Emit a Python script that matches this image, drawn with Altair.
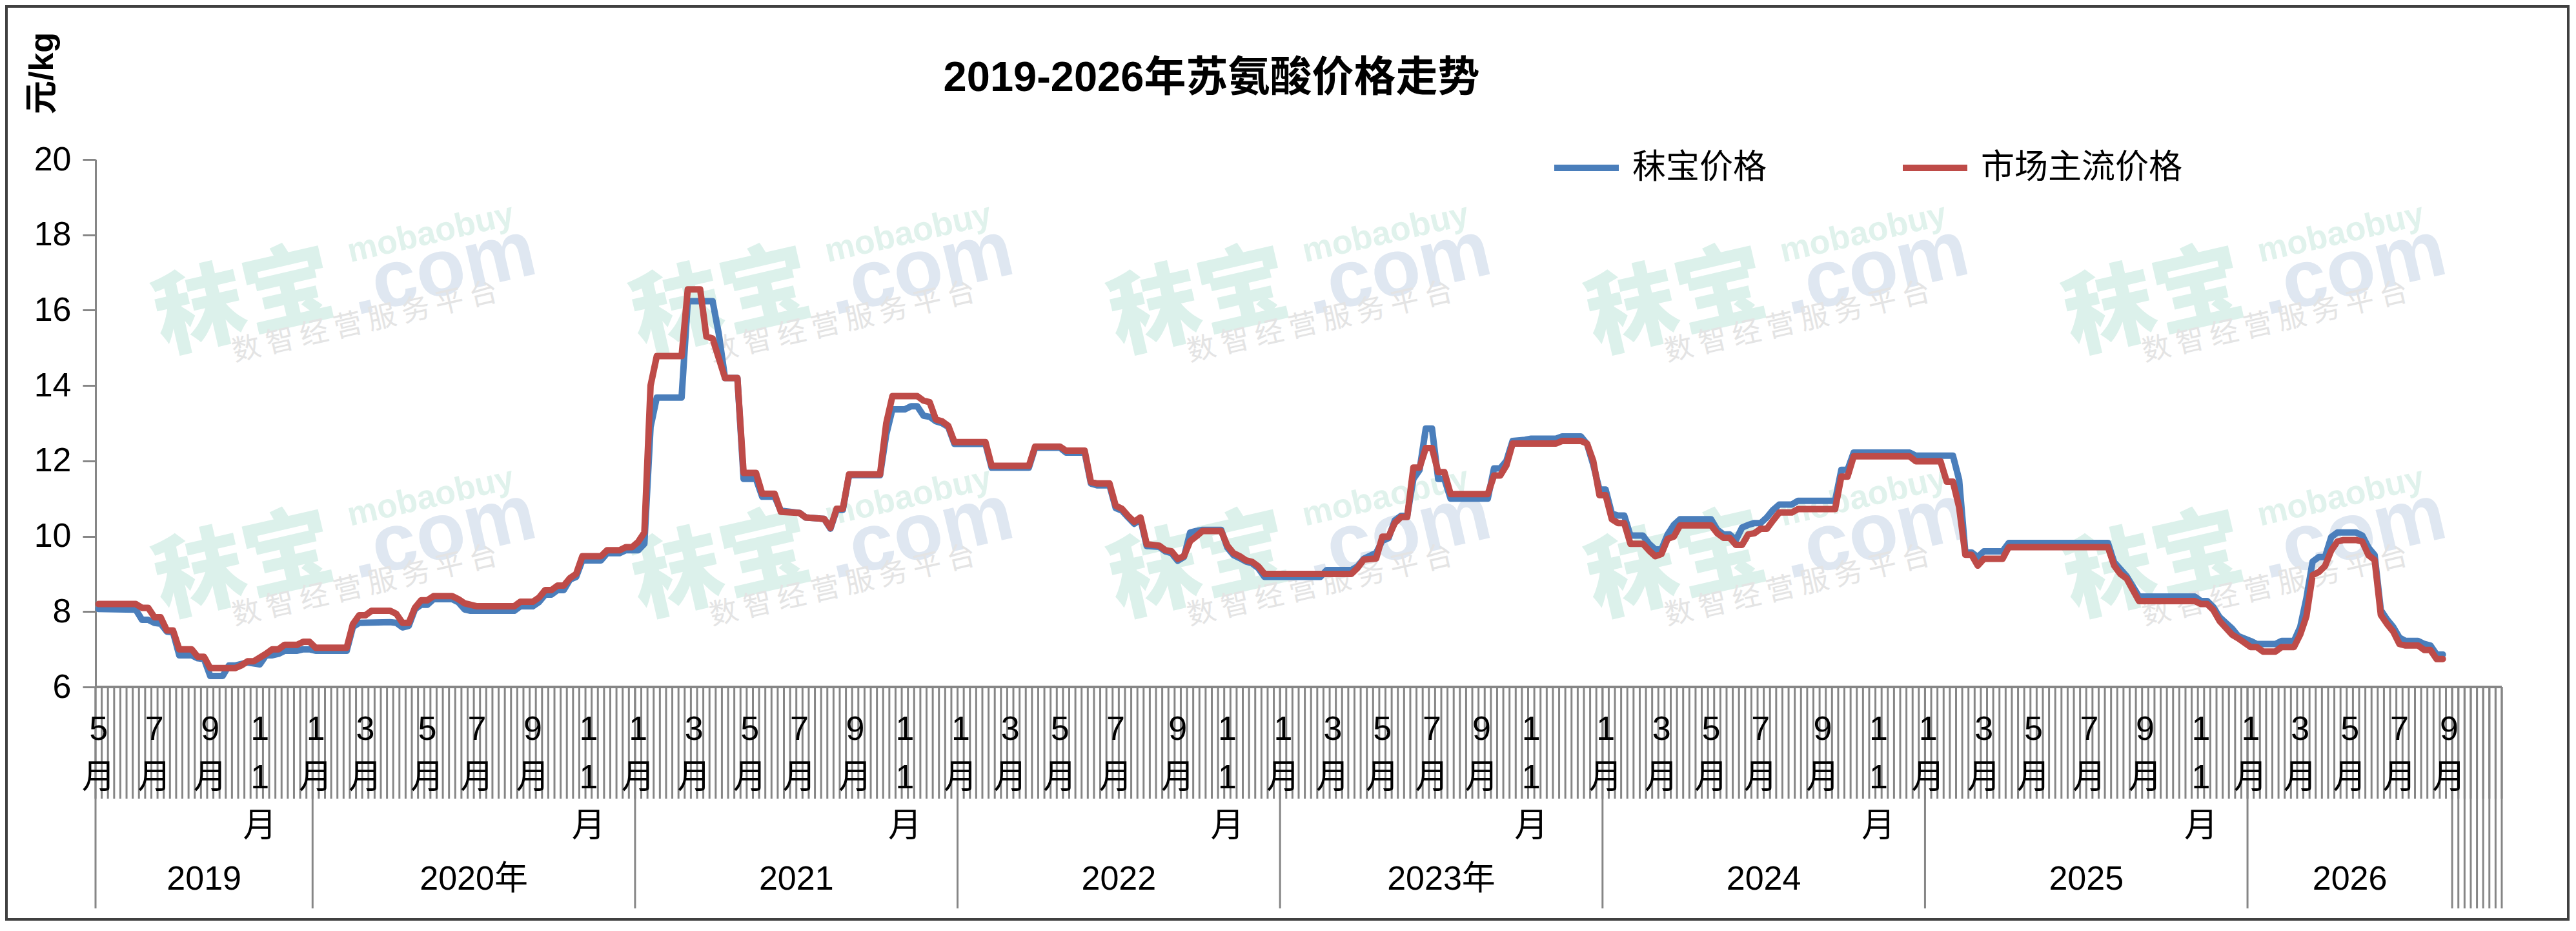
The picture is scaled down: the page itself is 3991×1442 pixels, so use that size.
import altair as alt
import pandas as pd

# ---------------- data (weekly categories) ----------------
red_weeks = [0, 6, 7, 8, 9, 10, 11, 12, 13, 15, 16, 17, 18, 22, 23, 24, 25, 27, 28, 29,
             30, 32, 33, 34, 35, 40, 41, 42, 43, 44, 47, 48, 49, 50, 51, 52, 53, 54, 57, 58,
             59, 61, 67, 68, 70, 71, 72, 73, 74, 75, 76, 77, 78, 81, 82, 84, 85, 86, 87, 88,
             89, 90, 94, 95, 97, 98, 99, 101, 103, 104, 106, 107, 109, 110, 113, 114, 117, 118, 119, 120,
             121, 126, 127, 128, 132, 133, 134, 135, 136, 137, 138, 143, 144, 150, 151, 155, 156, 159, 160, 161,
             163, 164, 165, 166, 167, 168, 169, 171, 172, 173, 174, 175, 176, 177, 178, 181, 182, 183, 184, 185,
             186, 187, 188, 202, 203, 204, 206, 207, 208, 209, 210, 211, 212, 213, 214, 215, 216, 217, 218, 224,
             225, 226, 227, 228, 235, 236, 239, 240, 241, 242, 243, 244, 245, 246, 247, 249, 250, 251, 252, 253,
             254, 255, 260, 261, 262, 263, 264, 265, 266, 267, 268, 269, 270, 271, 273, 274, 280, 281, 282, 283,
             292, 293, 297, 298, 299, 300, 301, 302, 303, 304, 307, 308, 324, 325, 326, 327, 329, 338, 339, 340,
             341, 342, 344, 345, 347, 348, 349, 351, 352, 354, 355, 356, 357, 358, 359, 360, 361, 362, 364, 365,
             366, 367, 368, 369, 370, 371, 372, 374, 375, 376, 377, 378]
red_values = [8.2, 8.2, 8.1, 8.1, 7.85, 7.85, 7.5, 7.5, 7.0, 7.0, 6.8, 6.8, 6.5, 6.5, 6.57, 6.68, 6.68, 6.88, 7.0, 7.0,
              7.12, 7.12, 7.2, 7.2, 7.04, 7.04, 7.67, 7.9, 7.9, 8.02, 8.02, 7.94, 7.7, 7.7, 8.1, 8.3, 8.3, 8.41, 8.41, 8.33,
              8.22, 8.14, 8.14, 8.26, 8.26, 8.37, 8.57, 8.57, 8.69, 8.69, 8.89, 9.0, 9.47, 9.47, 9.63, 9.63, 9.71, 9.71, 9.85, 10.1,
              14.0, 14.78, 14.78, 16.55, 16.55, 15.3, 15.25, 14.2, 14.2, 11.68, 11.68, 11.13, 11.13, 10.65, 10.62, 10.5, 10.46, 10.22, 10.73, 10.73,
              11.64, 11.64, 13.0, 13.72, 13.72, 13.6, 13.56, 13.1, 13.05, 12.93, 12.5, 12.5, 11.87, 11.87, 12.38, 12.38, 12.27, 12.27, 11.44, 11.4,
              11.4, 10.81, 10.73, 10.54, 10.38, 10.5, 9.79, 9.75, 9.63, 9.6, 9.4, 9.47, 9.87, 10.0, 10.14, 10.14, 9.75, 9.55, 9.47, 9.36,
              9.32, 9.2, 9.0, 9.0, 9.16, 9.38, 9.41, 9.99, 9.99, 10.35, 10.51, 10.51, 11.82, 11.82, 12.34, 12.34, 11.7, 11.7, 11.12, 11.12,
              11.61, 11.61, 11.88, 12.46, 12.46, 12.53, 12.53, 12.46, 12.0, 11.09, 11.09, 10.45, 10.35, 10.35, 9.8, 9.8, 9.62, 9.47, 9.53, 9.93,
              9.99, 10.29, 10.29, 10.08, 9.96, 9.96, 9.77, 9.77, 10.05, 10.08, 10.2, 10.2, 10.42, 10.63, 10.63, 10.72, 10.72, 11.58, 11.58, 12.12,
              12.12, 11.99, 11.99, 11.45, 11.45, 10.77, 9.51, 9.51, 9.22, 9.4, 9.4, 9.71, 9.71, 9.22, 9.0, 8.88, 8.28, 8.28, 8.2, 8.2,
              8.04, 7.75, 7.39, 7.29, 7.06, 7.06, 6.94, 6.94, 7.06, 7.06, 7.39, 7.88, 8.97, 9.05, 9.21, 9.62, 9.86, 9.9, 9.9, 9.86,
              9.5, 9.37, 7.91, 7.67, 7.47, 7.14, 7.1, 7.1, 6.98, 6.98, 6.74, 6.74]

blue_weeks = [0, 6, 7, 8, 9, 10, 11, 12, 13, 15, 16, 17, 18, 20, 21, 22, 24, 26, 27, 28,
              29, 30, 32, 33, 34, 35, 40, 41, 42, 47, 48, 49, 50, 51, 52, 53, 54, 57, 58, 59,
              60, 67, 68, 70, 71, 72, 73, 74, 75, 76, 77, 78, 81, 82, 84, 85, 87, 88, 89, 90,
              94, 95, 99, 100, 101, 103, 104, 106, 107, 109, 110, 113, 114, 117, 118, 119, 120, 121, 126, 127,
              128, 130, 131, 132, 133, 134, 135, 136, 137, 138, 143, 144, 150, 151, 155, 156, 159, 160, 161, 163,
              164, 165, 166, 167, 168, 169, 171, 172, 173, 174, 175, 176, 177, 178, 181, 182, 183, 184, 185, 186,
              187, 188, 197, 198, 202, 203, 204, 206, 207, 208, 209, 210, 211, 212, 213, 214, 215, 216, 217, 218,
              224, 225, 226, 227, 228, 230, 231, 235, 236, 239, 240, 241, 242, 243, 244, 245, 246, 247, 249, 250,
              251, 252, 253, 254, 255, 260, 261, 262, 263, 264, 265, 266, 267, 268, 269, 270, 271, 273, 274, 280,
              281, 282, 283, 292, 293, 299, 300, 301, 302, 303, 304, 307, 308, 324, 325, 327, 329, 338, 339, 340,
              341, 342, 344, 345, 347, 348, 351, 352, 354, 355, 356, 357, 358, 359, 360, 361, 364, 365, 366, 367,
              368, 369, 370, 371, 372, 374, 375, 376, 377, 378]
blue_values = [8.07, 8.05, 7.78, 7.78, 7.7, 7.68, 7.47, 7.45, 6.84, 6.84, 6.76, 6.74, 6.29, 6.29, 6.57, 6.57, 6.65, 6.6, 6.84, 6.84,
               6.88, 6.96, 6.96, 7.0, 7.0, 6.96, 6.96, 7.59, 7.7, 7.72, 7.7, 7.58, 7.62, 8.06, 8.18, 8.18, 8.33, 8.33, 8.25, 8.06,
               8.02, 8.02, 8.14, 8.14, 8.25, 8.45, 8.45, 8.57, 8.57, 8.85, 8.92, 9.36, 9.36, 9.55, 9.55, 9.63, 9.63, 9.8, 12.9, 13.68,
               13.68, 16.24, 16.24, 15.37, 14.2, 14.2, 11.52, 11.52, 11.05, 11.05, 10.68, 10.62, 10.5, 10.46, 10.2, 10.7, 10.7, 11.62, 11.62, 12.7,
               13.37, 13.37, 13.45, 13.45, 13.2, 13.17, 13.05, 13.0, 12.9, 12.45, 12.45, 11.82, 11.82, 12.35, 12.35, 12.22, 12.22, 11.4, 11.35, 11.35,
               10.75, 10.68, 10.5, 10.33, 10.45, 9.74, 9.72, 9.6, 9.55, 9.35, 9.45, 10.1, 10.14, 10.17, 10.17, 9.7, 9.5, 9.42, 9.33, 9.28,
               9.15, 8.92, 8.92, 9.1, 9.1, 9.2, 9.4, 9.56, 9.88, 9.95, 10.42, 10.54, 10.54, 11.52, 11.76, 12.86, 12.86, 11.52, 11.52, 11.0,
               11.0, 11.8, 11.8, 12.0, 12.53, 12.56, 12.59, 12.59, 12.65, 12.65, 12.45, 11.9, 11.24, 11.24, 10.6, 10.55, 10.55, 10.02, 10.02, 9.8,
               9.65, 9.65, 10.05, 10.3, 10.45, 10.45, 10.17, 10.05, 10.05, 9.9, 10.23, 10.3, 10.35, 10.35, 10.5, 10.7, 10.84, 10.84, 10.94, 10.94,
               11.76, 11.76, 12.22, 12.22, 12.14, 12.14, 11.5, 9.57, 9.57, 9.45, 9.6, 9.6, 9.82, 9.82, 9.31, 8.94, 8.4, 8.4, 8.28, 8.28,
               8.12, 7.85, 7.55, 7.35, 7.22, 7.14, 7.14, 7.22, 7.22, 7.59, 8.36, 9.33, 9.45, 9.45, 9.98, 10.1, 10.1, 10.02, 9.7, 9.5,
               8.04, 7.79, 7.59, 7.31, 7.22, 7.22, 7.14, 7.1, 6.86, 6.86]

# category axis: month labels (at the week where they appear) and year groups
month_weeks = [0, 9, 18, 26,
               35, 43, 53, 61, 70, 79,
               87, 96, 105, 113, 122, 130,
               139, 147, 155, 164, 174, 182,
               191, 199, 207, 215, 223, 231,
               243, 252, 260, 268, 278, 287,
               295, 304, 312, 321, 330, 339,
               347, 355, 363, 371, 379]
month_labels = ["5月", "7月", "9月", "11月",
                "1月", "3月", "5月", "7月", "9月", "11月",
                "1月", "3月", "5月", "7月", "9月", "11月",
                "1月", "3月", "5月", "7月", "9月", "11月",
                "1月", "3月", "5月", "7月", "9月", "11月",
                "1月", "3月", "5月", "7月", "9月", "11月",
                "1月", "3月", "5月", "7月", "9月", "11月",
                "1月", "3月", "5月", "7月", "9月"]
year_starts = [0, 35, 87, 139, 191, 243, 295, 347]
year_ends = [35, 87, 139, 191, 243, 295, 347, 380]
year_labels = ["2019", "2020年", "2021", "2022", "2023年", "2024", "2025", "2026"]
n_slots = 388

series_names = ["秣宝价格", "市场主流价格"]
series_colors = ["#4A7EBB", "#BE4B48"]
y_ticks = [6, 8, 10, 12, 14, 16, 18, 20]
title_text = "2019-2026年苏氨酸价格走势"
y_title = "元/kg"

# watermark anchors (in week / price units)
watermark_u = [23.9, 100.9, 177.9, 254.9, 331.9]
watermark_v = [16.3, 9.3]

# ---------------- layout ----------------
W, H = 3728, 817
FONT = "Liberation Sans, Noto Sans CJK SC"
CJK = "Noto Sans CJK SC"
GRAY = "#868686"

xs = alt.Scale(domain=[0, n_slots], nice=False, zero=False)
ys = alt.Scale(domain=[6, 20], nice=False, zero=False)

y_axis = alt.Axis(values=y_ticks, tickSize=20, tickWidth=3, tickColor=GRAY,
                  domainColor=GRAY, domainWidth=3, grid=False,
                  labelFontSize=52, labelFont=FONT, labelColor="black", labelPadding=18,
                  title=y_title, titleAngle=270, titleX=-83, titleY=-134,
                  titleAlign="center", titleBaseline="middle", titleFontSize=52,
                  titleFontWeight="bold", titleFont=FONT, titleColor="black")

df_blue = pd.DataFrame({"week": blue_weeks, "price": blue_values, "series": series_names[0]})
df_red = pd.DataFrame({"week": red_weeks, "price": red_values, "series": series_names[1]})

color = alt.Color("series:N",
                  scale=alt.Scale(domain=series_names, range=series_colors),
                  legend=alt.Legend(orient="none", legendX=2255, legendY=-42, direction="horizontal",
                                    title=None, symbolType="stroke", symbolSize=10000,
                                    symbolStrokeWidth=10, labelFontSize=52, labelFont=FONT,
                                    labelColor="black", labelOffset=16, columnPadding=190,
                                    labelLimit=2000, padding=0))


def line_layer(df):
    return (alt.Chart(df)
            .transform_calculate(pos="datum.week + 0.5")
            .mark_line(strokeWidth=10, strokeJoin="round", strokeCap="round")
            .encode(x=alt.X("pos:Q", scale=xs, axis=None),
                    y=alt.Y("price:Q", scale=ys, axis=y_axis),
                    color=color))


blue = line_layer(df_blue)
red = line_layer(df_red)

# border around the whole picture
border = (alt.Chart(alt.Data(values=[{}]))
          .mark_rect(fillOpacity=0, stroke="#404040", strokeWidth=4)
          .encode(x=alt.value(-138), x2=alt.value(W + 103), y=alt.value(-237), y2=alt.value(H + 360)))

# watermarks
wm = pd.DataFrame([{"u": u, "v": v} for v in watermark_v for u in watermark_u])
wm_base = alt.Chart(wm).encode(x=alt.X("u:Q", scale=xs, axis=None),
                               y=alt.Y("v:Q", scale=ys, axis=y_axis))
wm1 = wm_base.mark_text(text="秣宝", font=CJK, fontWeight=900, fontSize=140, color="#DCF1EB",
                        angle=347, align="center", baseline="middle", dy=8)
wm2 = wm_base.mark_text(text=".com", font="Liberation Sans", fontWeight="bold", fontSize=125,
                        color="#DFE7F1", angle=347, align="center", baseline="middle", dx=310, dy=26)
wm3 = wm_base.mark_text(text="mobaobuy", font="Liberation Sans", fontWeight="bold", fontSize=52,
                        color="#E0F2EC", angle=347, align="center", baseline="middle", dx=305, dy=-34)
wm4 = wm_base.mark_text(text="数   智   经   营   服   务   平   台", font=CJK, fontSize=44, color="#E4E4E4",
                        angle=347, align="center", baseline="middle", dx=175, dy=78)

# category axis: dense ticks, separators, baseline
ticks = (alt.Chart(pd.DataFrame({"slot": list(range(n_slots + 1))}))
         .mark_rule(color=GRAY, strokeWidth=3)
         .encode(x=alt.X("slot:Q", scale=xs, axis=None), y=alt.value(H), y2=alt.value(H + 173)))
sep_slots = year_starts + list(range(year_ends[-1], n_slots + 1))
seps = (alt.Chart(pd.DataFrame({"slot": sep_slots}))
        .mark_rule(color=GRAY, strokeWidth=3)
        .encode(x=alt.X("slot:Q", scale=xs, axis=None), y=alt.value(H), y2=alt.value(H + 343)))
baseline = (alt.Chart(alt.Data(values=[{}]))
            .mark_rule(color=GRAY, strokeWidth=4)
            .encode(x=alt.value(0), x2=alt.value(W), y=alt.value(H)))

month_df = pd.DataFrame({"week": month_weeks, "label": ["\n".join(list(s)) for s in month_labels]})
months = (alt.Chart(month_df)
          .transform_calculate(pos="datum.week + 0.5")
          .mark_text(font=FONT, fontSize=52, color="black", align="center", baseline="alphabetic",
                     lineBreak="\n", lineHeight=75)
          .encode(x=alt.X("pos:Q", scale=xs, axis=None), y=alt.value(H + 82), text="label:N"))

year_df = pd.DataFrame({"start": year_starts, "end": year_ends, "label": year_labels})
years = (alt.Chart(year_df)
         .transform_calculate(mid="(datum.start + datum.end) / 2")
         .mark_text(font=FONT, fontSize=52, color="black", align="center", baseline="alphabetic")
         .encode(x=alt.X("mid:Q", scale=xs, axis=None), y=alt.value(H + 314), text="label:N"))

title = (alt.Chart(alt.Data(values=[{"t": title_text}]))
         .mark_text(font=FONT, fontSize=65, fontWeight="bold", color="black",
                    align="center", baseline="middle")
         .encode(x=alt.value(1729), y=alt.value(-126), text="t:N"))

chart = (alt.layer(border, wm1, wm2, wm3, wm4, ticks, seps, baseline, months, years, blue, red, title)
         .properties(width=W, height=H,
                     padding={"left": 140, "top": 239, "right": 105, "bottom": 362},
                     autosize=alt.AutoSizeParams(type="none"))
         .configure_view(stroke=None))

chart.save("out.html", embed_options={"renderer": "svg", "actions": False})
